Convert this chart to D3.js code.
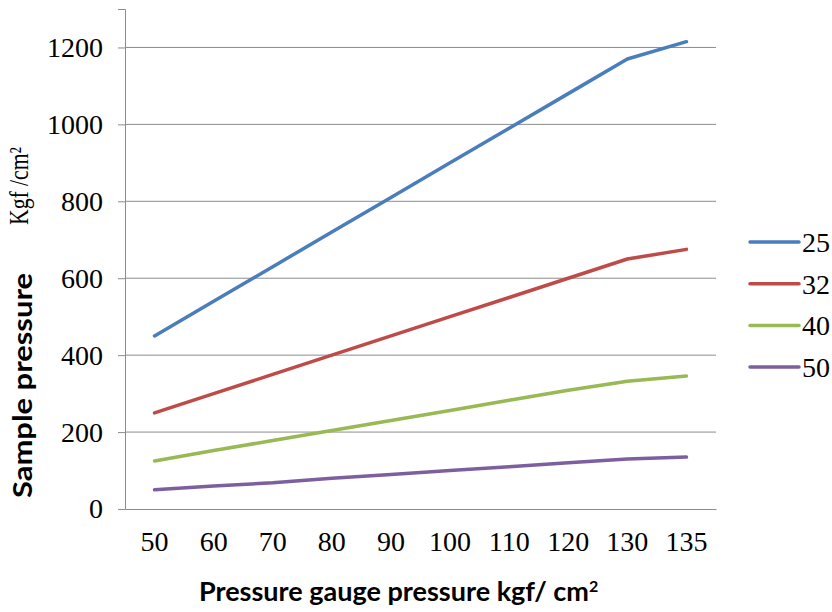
<!DOCTYPE html>
<html>
<head>
<meta charset="utf-8">
<script src="https://cdn.jsdelivr.net/npm/d3@7/dist/d3.min.js"></script>
<style>
  body { margin: 0; background: #fff; }
  svg { display: block; }
</style>
</head>
<body>
<div class="chart"></div>
<script>

// data
const categories = ["50", "60", "70", "80", "90", "100", "110", "120", "130", "135"];
const seriesNames = ["25", "32", "40", "50"];
const s25 = [450, 540, 630, 720, 810, 900, 990, 1080, 1170, 1215];
const s32 = [250, 300, 350, 400, 450, 500, 550, 600, 650, 675];
const s40 = [125, 152, 178, 204, 230, 256, 283, 309, 332, 346];
const s50 = [50, 60, 68, 80, 90, 100, 110, 120, 130, 135];
const yTicks = [0, 200, 400, 600, 800, 1000, 1200];
const colors = ["#4a7ebb", "#be4b48", "#98b954", "#7d5fa0"];

const series = [s25, s32, s40, s50];

const width = 832;
const height = 612;

const svg = d3.select(".chart")
    .append("svg")
    .attr("width", width)
    .attr("height", height);

const plotLeft = 125, plotRight = 716, plotTop = 9, plotBottom = 509;

const x = d3.scaleBand()
    .domain(categories)
    .range([plotLeft, plotRight]);

const y = d3.scaleLinear()
    .domain([0, 1300])
    .range([plotBottom, plotTop]);

const serif = "'Liberation Serif', 'DejaVu Serif', serif";
const grey = "#8c8c8c";

// gridlines + y axis
const yAxis = d3.axisLeft(y)
    .tickValues(yTicks)
    .tickSize(7)
    .tickPadding(15)
    .tickFormat(d3.format("d"));

const gy = svg.append("g")
    .attr("transform", `translate(${plotLeft},0)`)
    .call(yAxis);

gy.select(".domain").attr("stroke", grey);
gy.selectAll(".tick line").attr("stroke", grey);
gy.selectAll(".tick text")
    .attr("fill", "#000")
    .style("font-family", serif)
    .style("font-size", "28px");

svg.append("g")
    .selectAll("line")
    .data(yTicks.filter(d => d > 0))
    .enter()
    .append("line")
    .attr("x1", plotLeft)
    .attr("x2", plotRight)
    .attr("y1", d => y(d))
    .attr("y2", d => y(d))
    .attr("stroke", grey)
    .attr("stroke-width", 1);

// x axis
const xAxis = d3.axisBottom(x)
    .tickSize(0)
    .tickPadding(22);

const gx = svg.append("g")
    .attr("transform", `translate(0,${plotBottom})`)
    .call(xAxis);

gx.select(".domain").attr("stroke", grey);
gx.selectAll(".tick text")
    .attr("fill", "#000")
    .style("font-family", serif)
    .style("font-size", "28px");

// lines
const line = d3.line()
    .x((d, i) => x(categories[i]) + x.bandwidth() / 2)
    .y(d => y(d));

svg.selectAll(".series")
    .data(series)
    .enter()
    .append("path")
    .attr("class", "series")
    .attr("d", d => line(d))
    .attr("fill", "none")
    .attr("stroke", (d, i) => colors[i])
    .attr("stroke-width", 3.5)
    .attr("stroke-linecap", "round")
    .attr("stroke-linejoin", "round");

// legend
const legend = svg.append("g")
    .selectAll("g")
    .data(seriesNames)
    .enter()
    .append("g")
    .attr("transform", (d, i) => `translate(750,${242 + i * 41.7})`);

legend.append("line")
    .attr("x1", 0)
    .attr("x2", 49)
    .attr("stroke", (d, i) => colors[i])
    .attr("stroke-width", 3.5)
    .attr("stroke-linecap", "round");

legend.append("text")
    .attr("x", 52)
    .attr("dy", "0.35em")
    .text(d => d)
    .style("font-family", serif)
    .style("font-size", "28px");

// axis titles
const xt = svg.append("text")
    .attr("x", 199)
    .attr("y", 601)
    .style("font-family", "Lato, 'Open Sans', sans-serif")
    .style("font-weight", "700")
    .style("font-size", "26px");
xt.append("tspan")
    .text("Pressure gauge pressure kgf/ cm")
    .attr("textLength", 390)
    .attr("lengthAdjust", "spacingAndGlyphs");
xt.append("tspan").attr("dy", -9).style("font-size", "16px").text("2");

const yt = svg.append("text")
    .attr("transform", "translate(32,498) rotate(-90)");
yt.append("tspan")
    .text("Sample pressure")
    .attr("textLength", 225)
    .attr("lengthAdjust", "spacingAndGlyphs")
    .style("font-family", "Lato, 'Open Sans', sans-serif")
    .style("font-weight", "700")
    .style("font-size", "26px");
yt.append("tspan")
    .attr("x", 273)
    .attr("dy", -4)
    .text("Kgf /cm²")
    .attr("textLength", 78)
    .attr("lengthAdjust", "spacingAndGlyphs")
    .style("font-family", serif)
    .style("font-size", "27px");

</script>
</body>
</html>
